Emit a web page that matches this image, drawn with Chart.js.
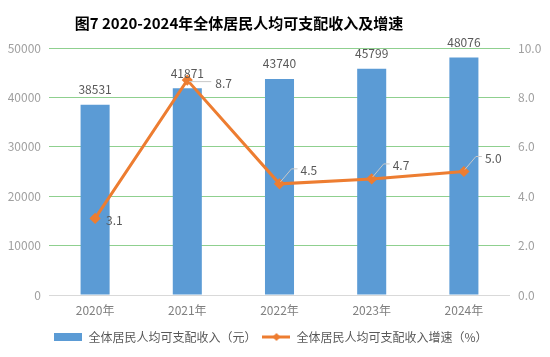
<!DOCTYPE html>
<html><head><meta charset="utf-8">
<script src="https://cdn.jsdelivr.net/npm/chart.js@4/dist/chart.umd.min.js"></script>
<style>html,body{margin:0;padding:0;background:#fff;}#wrap{width:550px;height:357px;position:relative;}</style>
</head><body><div id="wrap"><canvas id="c" width="550" height="357"></canvas></div>
<script>
const categories = ['2020年','2021年','2022年','2023年','2024年'];
const incomeValues = [38531, 41871, 43740, 45799, 48076];
const growthValues = [3.1, 8.7, 4.5, 4.7, 5.0];
const leftTicks = [0, 10000, 20000, 30000, 40000, 50000];
const rightTicks = [0, 2, 4, 6, 8, 10];
const titleText = '图7 2020-2024年全体居民人均可支配收入及增速';
const seriesNames = ['全体居民人均可支配收入（元）', '全体居民人均可支配收入增速（%）'];

const FONT = '"Noto Sans CJK SC", "Noto Sans", sans-serif';
const BLUE = '#5b9bd5', ORANGE = '#ed7d31';

function lineLegendIcon(){
  const c = document.createElement('canvas'); c.width = 28; c.height = 10;
  const x = c.getContext('2d');
  x.strokeStyle = ORANGE; x.lineWidth = 3; x.beginPath(); x.moveTo(0,5); x.lineTo(28,5); x.stroke();
  x.fillStyle = ORANGE; x.beginPath(); x.moveTo(14,1); x.lineTo(18,5); x.lineTo(14,9); x.lineTo(10,5); x.closePath(); x.fill();
  return c;
}
function barLegendIcon(){
  const c = document.createElement('canvas'); c.width = 28; c.height = 8;
  const x = c.getContext('2d'); x.fillStyle = BLUE; x.fillRect(0,0,28,8); return c;
}

const labelPlugin = {
  id: 'labels',
  afterDatasetsDraw(chart){
    const ctx = chart.ctx;
    ctx.save();
    ctx.font = '12px ' + FONT;
    ctx.fillStyle = '#595959';
    ctx.textBaseline = 'middle';
    const bm = chart.getDatasetMeta(0);
    ctx.textAlign = 'center';
    bm.data.forEach((el,i)=>{ ctx.fillText(String(incomeValues[i]), el.x, el.y - 15); });
    const lm = chart.getDatasetMeta(1);
    ctx.textAlign = 'left';
    ctx.strokeStyle = '#c8c8c8'; ctx.lineWidth = 1;
    lm.data.forEach((el,i)=>{
      const v = growthValues[i].toFixed(1);
      if (i === 0) {
        ctx.fillText(v, el.x + 11, el.y + 2);
      } else if (i === 1) {
        ctx.beginPath(); ctx.moveTo(el.x + 2, el.y + 1.5); ctx.lineTo(el.x + 24, el.y + 1.5); ctx.stroke();
        ctx.fillText(v, el.x + 28, el.y + 3);
      } else {
        ctx.beginPath(); ctx.moveTo(el.x + 1, el.y - 2); ctx.lineTo(el.x + 12, el.y - 15); ctx.lineTo(el.x + 18, el.y - 15); ctx.stroke();
        ctx.fillText(v, el.x + 21, el.y - 13);
      }
    });
    ctx.restore();
  },
  afterDraw(chart){
    const ctx = chart.ctx;
    ctx.save();
    ctx.font = 'bold 15px ' + FONT;
    ctx.fillStyle = '#000';
    ctx.textAlign = 'center'; ctx.textBaseline = 'middle';
    ctx.fillText(titleText, 239, 23);
    ctx.restore();
  }
};

new Chart(document.getElementById('c'), {
  data: {
    labels: categories,
    datasets: [
      { type: 'bar', label: seriesNames[0], data: incomeValues, backgroundColor: BLUE, yAxisID: 'y',
        categoryPercentage: 1, barPercentage: 0.315, order: 2 },
      { type: 'line', label: seriesNames[1], data: growthValues, borderColor: ORANGE, backgroundColor: ORANGE,
        borderWidth: 3, pointStyle: 'rectRot', pointRadius: 3.5, pointHoverRadius: 3.5, tension: 0, yAxisID: 'y1', order: 1 }
    ]
  },
  options: {
    responsive: false, animation: false, devicePixelRatio: 1,
    layout: { padding: { top: 48, left: 0, right: 8, bottom: 4 } },
    plugins: {
      tooltip: { enabled: false },
      legend: {
        position: 'bottom',
        labels: {
          font: { size: 12, family: FONT }, color: '#595959',
          usePointStyle: true, pointStyleWidth: 28, boxHeight: 8, padding: 6,
          generateLabels(){
            return [
              { text: seriesNames[0], pointStyle: barLegendIcon(), fillStyle: BLUE, strokeStyle: BLUE, lineWidth: 0, datasetIndex: 0, fontColor: '#595959' },
              { text: seriesNames[1], pointStyle: lineLegendIcon(), fillStyle: ORANGE, strokeStyle: ORANGE, lineWidth: 0, datasetIndex: 1, fontColor: '#595959' }
            ];
          }
        }
      }
    },
    scales: {
      x: {
        grid: { display: false, drawTicks: false }, border: { display: false },
        ticks: { color: '#7f7f7f', font: { size: 12, family: FONT }, padding: 8 },
        afterFit(s){ s.height = 30; }
      },
      y: {
        position: 'left', min: 0, max: 50000,
        afterBuildTicks(s){ s.ticks = leftTicks.map(v=>({value:v})); },
        ticks: { color: '#a0a0a0', font: { size: 12, family: FONT }, padding: 8, callback: v => String(v) },
        grid: { color: (c)=> c.tick && c.tick.value === 0 ? '#d9d9d9' : '#8fd08f', drawTicks: false, lineWidth: 1 },
        border: { display: false },
        afterFit(s){ s.width = 49; }
      },
      y1: {
        position: 'right', min: 0, max: 10,
        afterBuildTicks(s){ s.ticks = rightTicks.map(v=>({value:v})); },
        ticks: { color: '#a0a0a0', font: { size: 12, family: FONT }, padding: 8, callback: v => Number(v).toFixed(1) },
        grid: { display: false, drawTicks: false }, border: { display: false },
        afterFit(s){ s.width = 32; }
      }
    }
  },
  plugins: [labelPlugin]
});
</script>
</body></html>
